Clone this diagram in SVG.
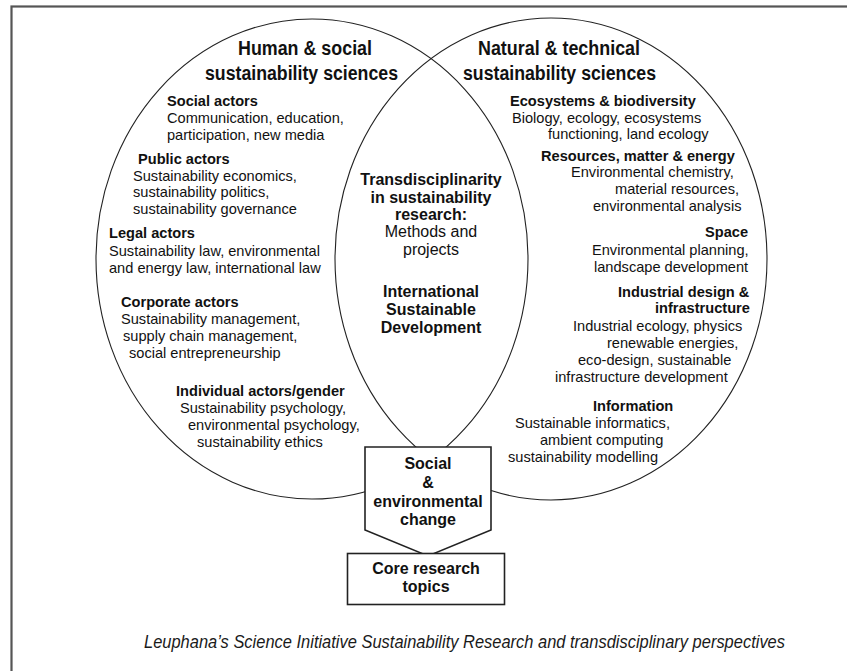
<svg xmlns="http://www.w3.org/2000/svg" width="847" height="671" viewBox="0 0 847 671">
<style>
text{font-family:"Liberation Sans",Arial,sans-serif;fill:#111}
.t{font-size:20px;font-weight:bold}
.b{font-size:14.6px;font-weight:bold}
.r{font-size:14.6px}
.cb{font-size:16px;font-weight:bold;text-anchor:middle}
.cr{font-size:16px;text-anchor:middle}
.cap{font-size:18px;font-style:italic;fill:#1a1a1a}
.ell{fill:none;stroke:#222;stroke-width:1.1}
.box{fill:#fff;stroke:#222;stroke-width:1.6}
</style>
<rect x="0" y="0" width="847" height="671" fill="#fff"/>
<rect x="11.5" y="6.5" width="900" height="700" fill="none" stroke="#555" stroke-width="2.2"/>
<g id="connectors">
<ellipse class="ell" cx="312" cy="259" rx="216" ry="240"/>
<ellipse class="ell" cx="551" cy="259" rx="216" ry="241"/>
</g>
<g id="human-social">
<text class="t" x="238" y="55" textLength="134" lengthAdjust="spacingAndGlyphs">Human &amp; social</text>
<text class="t" x="205" y="80" textLength="193" lengthAdjust="spacingAndGlyphs">sustainability sciences</text>
<text class="b" x="167" y="106">Social actors</text>
<text class="r" x="167" y="123">Communication, education,</text>
<text class="r" x="167" y="140">participation, new media</text>
<text class="b" x="138" y="164">Public actors</text>
<text class="r" x="133" y="181">Sustainability economics,</text>
<text class="r" x="133" y="197">sustainability politics,</text>
<text class="r" x="133" y="214">sustainability governance</text>
<text class="b" x="109" y="238">Legal actors</text>
<text class="r" x="109" y="256">Sustainability law, environmental</text>
<text class="r" x="109" y="273">and energy law, international law</text>
<text class="b" x="121" y="307">Corporate actors</text>
<text class="r" x="121" y="324">Sustainability management,</text>
<text class="r" x="123" y="341">supply chain management,</text>
<text class="r" x="129" y="358">social entrepreneurship</text>
<text class="b" x="176" y="396">Individual actors/gender</text>
<text class="r" x="180" y="413">Sustainability psychology,</text>
<text class="r" x="188" y="430">environmental psychology,</text>
<text class="r" x="197" y="447">sustainability ethics</text>
</g>
<g id="natural-technical">
<text class="t" x="478" y="55" textLength="162" lengthAdjust="spacingAndGlyphs">Natural &amp; technical</text>
<text class="t" x="463" y="80" textLength="193" lengthAdjust="spacingAndGlyphs">sustainability sciences</text>
<text class="b" x="510" y="106">Ecosystems &amp; biodiversity</text>
<text class="r" x="512" y="123">Biology, ecology, ecosystems</text>
<text class="r" x="548" y="139">functioning, land ecology</text>
<text class="b" x="541" y="161">Resources, matter &amp; energy</text>
<text class="r" x="571" y="177">Environmental chemistry,</text>
<text class="r" x="615" y="194">material resources,</text>
<text class="r" x="593" y="211">environmental analysis</text>
<text class="b" x="705" y="237">Space</text>
<text class="r" x="592" y="255">Environmental planning,</text>
<text class="r" x="594" y="272">landscape development</text>
<text class="b" x="618" y="297">Industrial design &amp;</text>
<text class="b" x="655" y="313">infrastructure</text>
<text class="r" x="573" y="331">Industrial ecology, physics</text>
<text class="r" x="607" y="348">renewable energies,</text>
<text class="r" x="578" y="365">eco-design, sustainable</text>
<text class="r" x="555" y="382">infrastructure development</text>
<text class="b" x="593" y="411">Information</text>
<text class="r" x="515" y="428">Sustainable informatics,</text>
<text class="r" x="540" y="445">ambient computing</text>
<text class="r" x="508" y="462">sustainability modelling</text>
</g>
<g id="transdisciplinarity">
<text class="cb" x="431" y="185">Transdisciplinarity</text>
<text class="cb" x="431" y="203">in sustainability</text>
<text class="cb" x="431" y="220">research:</text>
<text class="cr" x="431" y="237">Methods and</text>
<text class="cr" x="431" y="255">projects</text>
<text class="cb" x="431" y="297">International</text>
<text class="cb" x="431" y="315">Sustainable</text>
<text class="cb" x="431" y="333">Development</text>
</g>
<g id="change">
<polygon class="box" points="365,447 491,447 491,530 428,556 365,530"/>
<text class="cb" x="428" y="469">Social</text>
<text class="cb" x="428" y="488">&amp;</text>
<text class="cb" x="428" y="507">environmental</text>
<text class="cb" x="428" y="525">change</text>
</g>
<g id="core">
<rect class="box" x="347.5" y="553.5" width="157" height="51"/>
<text class="cb" x="426" y="574">Core research</text>
<text class="cb" x="426" y="592">topics</text>
</g>
<text class="cap" x="144" y="648" textLength="641" lengthAdjust="spacingAndGlyphs">Leuphana’s Science Initiative Sustainability Research and transdisciplinary perspectives</text>
</svg>
